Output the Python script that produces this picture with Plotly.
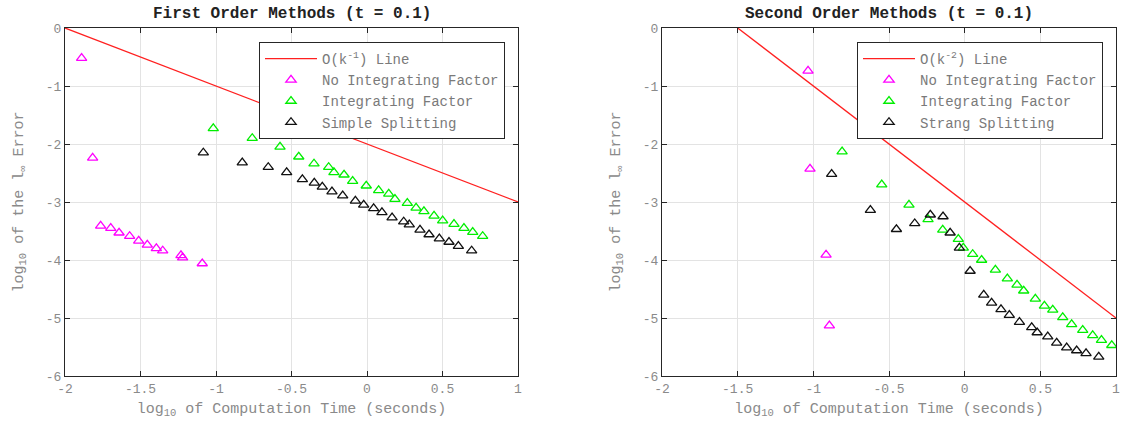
import plotly.graph_objects as go

# ---------------- data ----------------
# First order methods
fo_noif_x = [-1.89, -1.817, -1.764, -1.697, -1.642, -1.572, -1.512, -1.455, -1.395, -1.353, -1.232, -1.221, -1.091]
fo_noif_y = [-0.52, -2.24, -3.41, -3.45, -3.53, -3.59, -3.67, -3.74, -3.80, -3.84, -3.92, -3.96, -4.06]

fo_if_x = [-1.018, -0.760, -0.576, -0.452, -0.351, -0.254, -0.219, -0.152, -0.095, -0.005, 0.077, 0.144,
           0.185, 0.267, 0.325, 0.377, 0.444, 0.501, 0.576, 0.642, 0.700, 0.766]
fo_if_y = [-1.73, -1.90, -2.05, -2.22, -2.34, -2.40, -2.49, -2.53, -2.64, -2.72, -2.80, -2.86,
           -2.95, -3.02, -3.10, -3.16, -3.24, -3.32, -3.38, -3.45, -3.52, -3.59]

fo_split_x = [-1.084, -0.826, -0.654, -0.532, -0.428, -0.349, -0.296, -0.232, -0.161, -0.077, -0.022,
              0.044, 0.099, 0.166, 0.243, 0.280, 0.351, 0.411, 0.479, 0.543, 0.605, 0.693]
fo_split_y = [-2.15, -2.32, -2.40, -2.49, -2.61, -2.67, -2.74, -2.82, -2.89, -2.98, -3.05,
              -3.11, -3.18, -3.27, -3.34, -3.39, -3.48, -3.56, -3.63, -3.69, -3.76, -3.84]

fo_line_x = [-2, 1]
fo_line_y = [0, -3]

# Second order methods
so_noif_x = [-1.035, -1.022, -0.916, -0.894]
so_noif_y = [-0.74, -2.43, -3.91, -5.13]

so_if_x = [-0.810, -0.548, -0.368, -0.242, -0.145, -0.042, -0.009, 0.053, 0.112, 0.203, 0.282, 0.346,
           0.390, 0.467, 0.527, 0.582, 0.648, 0.707, 0.780, 0.846, 0.904, 0.972]
so_if_y = [-2.13, -2.70, -3.05, -3.30, -3.48, -3.64, -3.79, -3.90, -4.00, -4.17, -4.32, -4.43,
           -4.53, -4.67, -4.79, -4.86, -4.99, -5.11, -5.21, -5.30, -5.38, -5.47]

so_split_x = [-0.879, -0.623, -0.451, -0.330, -0.227, -0.143, -0.096, -0.035, 0.036, 0.126, 0.178, 0.240,
              0.295, 0.362, 0.443, 0.479, 0.549, 0.608, 0.674, 0.740, 0.802, 0.886]
so_split_y = [-2.52, -3.14, -3.47, -3.37, -3.22, -3.25, -3.53, -3.79, -4.19, -4.60, -4.74, -4.85,
              -4.95, -5.07, -5.16, -5.25, -5.32, -5.43, -5.51, -5.56, -5.61, -5.67]

so_line_x = [-1.5, 1]
so_line_y = [0, -5]

x_tickvals = [-2, -1.5, -1, -0.5, 0, 0.5, 1]
x_ticktext = ["-2", "-1.5", "-1", "-0.5", "0", "0.5", "1"]
y_tickvals = [0, -1, -2, -3, -4, -5, -6]
y_ticktext = ["0", "-1", "-2", "-3", "-4", "-5", "-6"]

titles = ["First Order Methods (t = 0.1)", "Second Order Methods (t = 0.1)"]
xlabel = "log<sub>10</sub> of Computation Time (seconds)"
ylabel = "log<sub>10</sub> of the l<sub>∞</sub> Error"

# ---------------- figure ----------------
FONT = "Liberation Mono, Courier New, monospace"
W, H = 1122, 429
MS = 9

fig = go.Figure()

def add_panel(xa, ya, leg, lx, ly, lname, nx, ny, ix, iy, sx, sy, sname):
    fig.add_trace(go.Scatter(x=lx, y=ly, mode="lines", name=lname,
                             line=dict(color="#ff2020", width=1.3),
                             xaxis=xa, yaxis=ya, legend=leg))
    fig.add_trace(go.Scatter(x=nx, y=ny, mode="markers", name="No Integrating Factor",
                             marker=dict(symbol="triangle-up-open", size=MS, color="#ff00ff",
                                         line=dict(width=1.3)),
                             xaxis=xa, yaxis=ya, legend=leg))
    fig.add_trace(go.Scatter(x=ix, y=iy, mode="markers", name="Integrating Factor",
                             marker=dict(symbol="triangle-up-open", size=MS, color="#00ee00",
                                         line=dict(width=1.3)),
                             xaxis=xa, yaxis=ya, legend=leg))
    fig.add_trace(go.Scatter(x=sx, y=sy, mode="markers", name=sname,
                             marker=dict(symbol="triangle-up-open", size=MS, color="#111111",
                                         line=dict(width=1.3)),
                             xaxis=xa, yaxis=ya, legend=leg))

add_panel("x", "y", "legend", fo_line_x, fo_line_y, "O(k<sup>-1</sup>) Line",
          fo_noif_x, fo_noif_y, fo_if_x, fo_if_y, fo_split_x, fo_split_y, "Simple Splitting")
add_panel("x2", "y2", "legend2", so_line_x, so_line_y, "O(k<sup>-2</sup>) Line",
          so_noif_x, so_noif_y, so_if_x, so_if_y, so_split_x, so_split_y, "Strang Splitting")

ydom = [1 - 376 / H, 1 - 28 / H]
xdom1 = [65 / W, 518 / W]
xdom2 = [662 / W, 1116 / W]

axis_common = dict(showgrid=True, gridcolor="#e3e3e3", gridwidth=1, zeroline=False,
                   showline=True, linecolor="#262626", linewidth=1, mirror="ticks",
                   ticks="inside", ticklen=5, tickcolor="#262626",
                   tickfont=dict(family=FONT, size=13, color="#8a8a8a"),
                   automargin=False)

xa = dict(axis_common, range=[-2, 1], tickmode="array", tickvals=x_tickvals, ticktext=x_ticktext,
          title=dict(text=xlabel, font=dict(family=FONT, size=15, color="#8a8a8a"), standoff=6))
ya = dict(axis_common, range=[-6, 0], tickmode="array", tickvals=y_tickvals, ticktext=y_ticktext,
          title=dict(text=ylabel, font=dict(family=FONT, size=15, color="#8a8a8a"), standoff=18))

leg_common = dict(y=1 - 42 / H, xanchor="left", yanchor="top",
                  bordercolor="#262626", borderwidth=1, bgcolor="white",
                  font=dict(family=FONT, size=14, color="#7a7a7a"), tracegroupgap=0,
                  itemwidth=52)

fig.update_layout(
    width=W, height=H,
    margin=dict(l=0, r=0, t=0, b=0),
    paper_bgcolor="white", plot_bgcolor="white",
    font=dict(family=FONT, color="#333333"),
    xaxis=dict(xa, domain=xdom1, anchor="y"),
    yaxis=dict(ya, domain=ydom, anchor="x"),
    xaxis2=dict(xa, domain=xdom2, anchor="y2"),
    yaxis2=dict(ya, domain=ydom, anchor="x2"),
    legend=dict(leg_common, x=259 / W),
    legend2=dict(leg_common, x=857 / W),
    showlegend=True,
)

for i, (t, xd) in enumerate(zip(titles, [xdom1, xdom2])):
    fig.add_annotation(text="<b>" + t + "</b>", x=(xd[0] + xd[1]) / 2, y=1 - 14 / H,
                       xref="paper", yref="paper", showarrow=False,
                       font=dict(family=FONT, size=16, color="#222222"),
                       xanchor="center", yanchor="middle")

fig.write_html("out.html")
